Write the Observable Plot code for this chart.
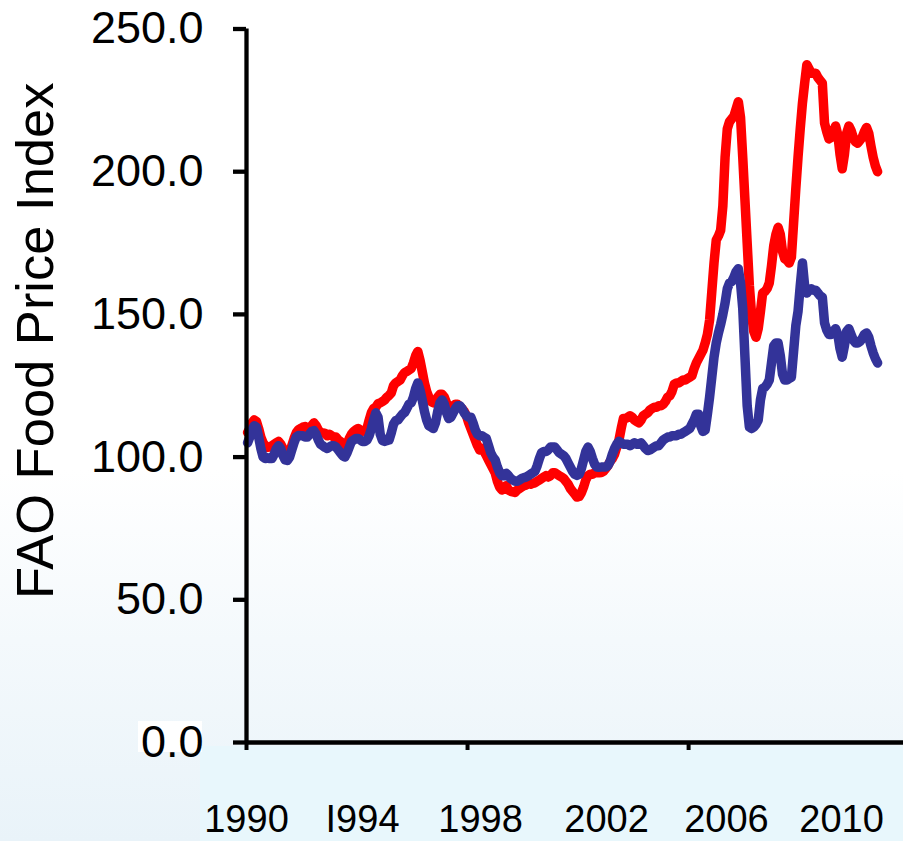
<!DOCTYPE html>
<html>
<head>
<meta charset="utf-8">
<script src="https://cdn.jsdelivr.net/npm/d3@7"></script>
<script src="https://cdn.jsdelivr.net/npm/@observablehq/plot@0.6"></script>
<style>
  html, body { margin: 0; padding: 0; }
  body {
    width: 903px; height: 841px; overflow: hidden;
    background: linear-gradient(to bottom, #ffffff 0px, #ffffff 470px, #f4f9fc 640px, #e9f3f9 841px);
    font-family: "Liberation Sans", Arial, sans-serif;
  }
  #wrap { position: relative; width: 903px; height: 841px; }
  #band { position: absolute; left: 200px; top: 746px; right: 0; bottom: 0; background: #e8f7fc; }
  #zerobox { position: absolute; left: 138px; top: 721px; width: 64px; height: 31px; background: #ffffff; }
  #chart { position: absolute; left: 0; top: 0; }
</style>
</head>
<body>
<div id="wrap">
  <div id="band"></div>
  <div id="zerobox"></div>
  <div id="chart"></div>
</div>
<script>
// Monthly FAO Food Price Index, Jan 1990 – Oct 2013 (one value per month)
const nominal = [
  108.6, 110, 112, 113, 112.5, 110, 107, 105, 104, 103.4, 103.5, 104,
  104.5, 105, 105.5, 104.5, 103, 101.5, 100.6, 101.5, 104, 106.5, 108.5, 109.6,
  110, 110.5, 110.7, 110, 109.6, 111, 112, 111, 109.5, 108.5, 108.5, 108.3,
  107.5, 108, 107.5, 107, 107, 106, 105.5, 104, 103.4, 104.5, 106.5, 108,
  109, 109.6, 110, 109.5, 109, 109.3, 110, 113, 115.6, 117, 117.5, 118.7,
  119, 119.5, 120, 121, 121.6, 122.5, 125, 126, 126.5, 127, 128.5, 129.6,
  130, 130.5, 131, 133, 135.5, 137, 134, 130, 126, 123, 121, 119.5,
  119, 119.5, 121, 122, 122, 121, 119, 117, 117, 118, 118.5, 118.5,
  117.5, 117, 116, 114.5, 112, 110, 108, 106, 104, 102.5, 103, 102,
  100.5, 99, 97.5, 96, 94.5, 91.5, 89.5, 88.5, 89, 90, 88.5, 88,
  87.8, 87.6, 88.5, 89, 89.5, 90, 90.2, 90.7, 90.5, 90.8, 91, 91.5,
  92, 92.5, 93, 93.5, 93, 93.5, 94.5, 94.5, 94, 93.5, 93, 92.5,
  91.5, 90.5, 89, 88, 87, 86, 86.2, 87.5, 89.5, 92, 93.5, 94,
  94, 94.5, 94.5, 94.5, 94.6, 95, 96, 97, 98.5, 99.5, 101, 103.5,
  106, 110, 113.5, 113.5, 114, 114.5, 114, 113, 112.5, 112, 113, 114.5,
  115, 115.5, 116.5, 117, 117.5, 117.5, 118, 118, 118.5, 119.5, 121, 121.5,
  123, 125.5, 126, 126, 126.5, 127, 127, 127.5, 128, 128.5, 131, 133,
  134.5, 136, 137.5, 140, 143, 148, 158, 168, 176, 177.5, 179.5, 188,
  205, 215, 217.5, 218.5, 219.5, 222, 224.5, 219, 205, 190, 175, 160,
  150, 144, 142, 145, 151, 157.5, 158, 159, 161, 167, 174, 178,
  180.5, 178, 172, 169.5, 169, 168, 170, 182, 194, 205, 215, 224,
  231, 237.5, 236, 234.5, 234.5, 234.5, 233, 232, 231, 217, 214, 211.5,
  212, 214, 216, 213, 206, 201, 206, 213.5, 216, 214.5, 212, 210.5,
  210, 211, 212, 214, 215.5, 213.5, 209, 205, 202, 200
];
const real = [
  105, 107, 109.5, 111, 110.5, 107, 103, 100, 99.5, 99.8, 99.5, 99.5,
  101, 103, 104, 103, 100.5, 99, 98.8, 100, 102.5, 105, 107, 107.6,
  107.5, 107.5, 107, 107, 108, 109, 109.3, 108, 106, 104.5, 104, 103.4,
  103, 103.5, 104, 104, 103.5, 102.5, 101.5, 100.5, 100, 101.5, 103.5, 105.5,
  106, 106.5, 106.5, 106, 105.5, 105.5, 106, 107.5, 110, 113, 115.5, 114,
  108, 105.8, 105.5, 105.8, 106, 108.5, 111.5, 112.8, 113, 114, 115, 115.6,
  117, 118.5, 119, 121, 124, 126, 123.5, 120, 116, 113, 111, 110.5,
  110, 112, 116, 119, 120, 118.5, 115.5, 113.5, 114, 115.5, 117, 118,
  118, 117, 115.5, 114.5, 114, 114, 112, 109.5, 108, 107.5, 107.5, 107,
  106.5, 104, 101.5, 100, 99, 96.5, 94.5, 93.5, 93.5, 94.3, 93.5, 92.5,
  92, 91.5, 91.5, 92, 92.5, 92.8, 93, 93.5, 94, 94.5, 95, 97,
  99.5, 101.5, 102, 102, 102.5, 103.5, 103.5, 103.5, 102.5, 101.5, 101, 100.5,
  99.5, 98, 96.5, 95, 94, 93.6, 94, 96, 99, 102, 103.5, 102,
  99.5, 97.5, 96.5, 96.4, 96.5, 96.5, 96.5, 97, 98.5, 101, 103, 104.5,
  105.5, 105, 104.5, 104.5, 104.5, 104, 104.5, 105, 104.5, 104.5, 105, 104,
  103, 102.3, 102.5, 103, 103.5, 104, 104, 105, 106, 106.5, 107, 107,
  107.5, 107.5, 107.5, 108, 108, 108.5, 109, 109.5, 110, 111.5, 113, 115,
  115, 111, 109, 109.5, 115, 121, 128, 135, 140, 143.5, 146.5, 150,
  154, 159, 161, 161.5, 163, 165, 166, 161, 152, 135, 118, 110.5,
  110, 110.5, 111.5, 113, 120, 124, 124.5, 125.5, 127, 133, 139, 140,
  140, 135.5, 129, 127, 127, 127.5, 128, 137, 146, 151, 160, 168,
  160, 157.5, 158.5, 159, 158.5, 158.5, 157.5, 156.5, 156, 147, 144.5, 143,
  143, 144, 145, 143, 138, 135, 139, 144, 145, 143, 141, 140,
  140, 140.5, 141.5, 143, 143.5, 142, 139, 136.5, 134.5, 133
];
const yTicks = [0, 50, 100, 150, 200, 250];
const xTickMarks = [-0.5, 99.5, 199.5];            // every 100 months (category boundaries)
const xTickLabels = ["1990", "I994", "1998", "2002", "2006", "2010"];
const xTickLabelPos = [-0.5, 52, 105.4, 162.4, 216.6, 268.7]; // month index where each label sits
const yTitle = "FAO Food Price Index";
const xDomain = [-0.5, 296.72];

const chart = Plot.plot({
  width: 903,
  height: 841,
  marginLeft: 246,
  marginRight: 0,
  marginTop: 28.5,
  marginBottom: 99,
  style: { background: "transparent", fontFamily: "'Liberation Sans', Arial, sans-serif", color: "black", overflow: "visible" },
  x: { domain: xDomain, axis: null },
  y: { domain: [0, 250], axis: null },
  marks: [
    Plot.lineY(nominal, { x: (d, i) => i, y: d => d, stroke: "#ff0000", strokeWidth: 9.5 }),
    Plot.lineY(real, { x: (d, i) => i, y: d => d, stroke: "#333399", strokeWidth: 9.5 }),
    Plot.ruleX([xDomain[0]], { y1: 0, y2: 250, stroke: "black", strokeWidth: 4.3 }),
    Plot.ruleY([0], { stroke: "black", strokeWidth: 4.3 }),
    Plot.axisY({ ticks: yTicks, tickFormat: d => d.toFixed(1), tickSize: 13, tickPadding: 30, fontSize: 45, strokeWidth: 4.3, label: null }),
    Plot.axisX({ ticks: xTickMarks, tickFormat: () => "", tickSize: 8, strokeWidth: 4, label: null }),
    Plot.text(xTickLabels, { x: (d, i) => xTickLabelPos[i], text: d => d, frameAnchor: "bottom", lineAnchor: "top", dy: 63, fontSize: 38, fill: "black" }),
    Plot.text([yTitle], { text: d => d, frameAnchor: "left", rotate: -90, dx: -210, dy: -45, textAnchor: "middle", lineAnchor: "middle", fontSize: 52.5, fill: "black" })
  ]
});
document.getElementById("chart").append(chart);
</script>
</body>
</html>
